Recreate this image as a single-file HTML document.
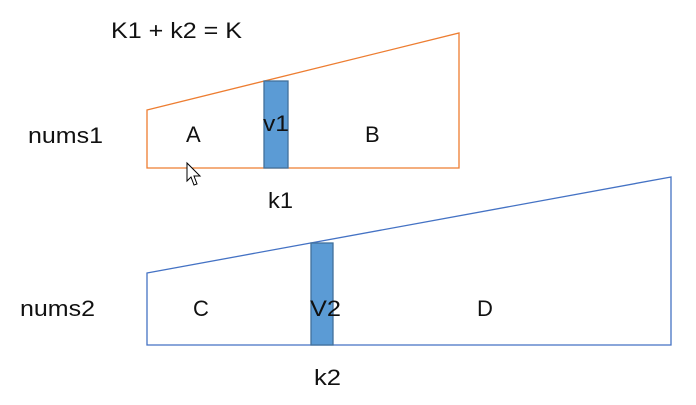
<!DOCTYPE html>
<html><head><style>
body{margin:0;background:#fff;}
svg text{font-family:"Liberation Sans","Noto Sans CJK SC",sans-serif;font-size:22px;fill:#111;}
</style></head><body>
<svg width="696" height="400" xmlns="http://www.w3.org/2000/svg">
<rect width="696" height="400" fill="#fff"/>
<polygon points="147,110 459,33 459,168 147,168" fill="none" stroke="#ed7d31" stroke-width="1.3"/>
<polygon points="147,273 671,177 671,345 147,345" fill="none" stroke="#4472c4" stroke-width="1.3"/>
<rect x="264" y="81" width="24" height="87" fill="#5b9bd5" stroke="#41719c" stroke-width="1.3"/>
<rect x="311" y="243" width="22" height="102" fill="#5b9bd5" stroke="#41719c" stroke-width="1.3"/>
<text x="111" y="38" textLength="131" lengthAdjust="spacingAndGlyphs">K1 + k2 = K</text>
<text x="28" y="143" textLength="75" lengthAdjust="spacingAndGlyphs">nums1</text>
<text x="186" y="142">A</text>
<text x="263" y="131" textLength="26" lengthAdjust="spacingAndGlyphs">v1</text>
<text x="365" y="142">B</text>
<text x="268" y="208" textLength="25" lengthAdjust="spacingAndGlyphs">k1</text>
<text x="20" y="316" textLength="75" lengthAdjust="spacingAndGlyphs">nums2</text>
<text x="193" y="316">C</text>
<text x="310" y="316" textLength="31" lengthAdjust="spacingAndGlyphs">V2</text>
<text x="477" y="316">D</text>
<text x="314" y="385" textLength="27" lengthAdjust="spacingAndGlyphs">k2</text>
<polygon points="187,163 187,181 191,177 194,185 197,184 194,176 200,176" fill="#fff" stroke="#000" stroke-width="1"/>
</svg>
</body></html>
